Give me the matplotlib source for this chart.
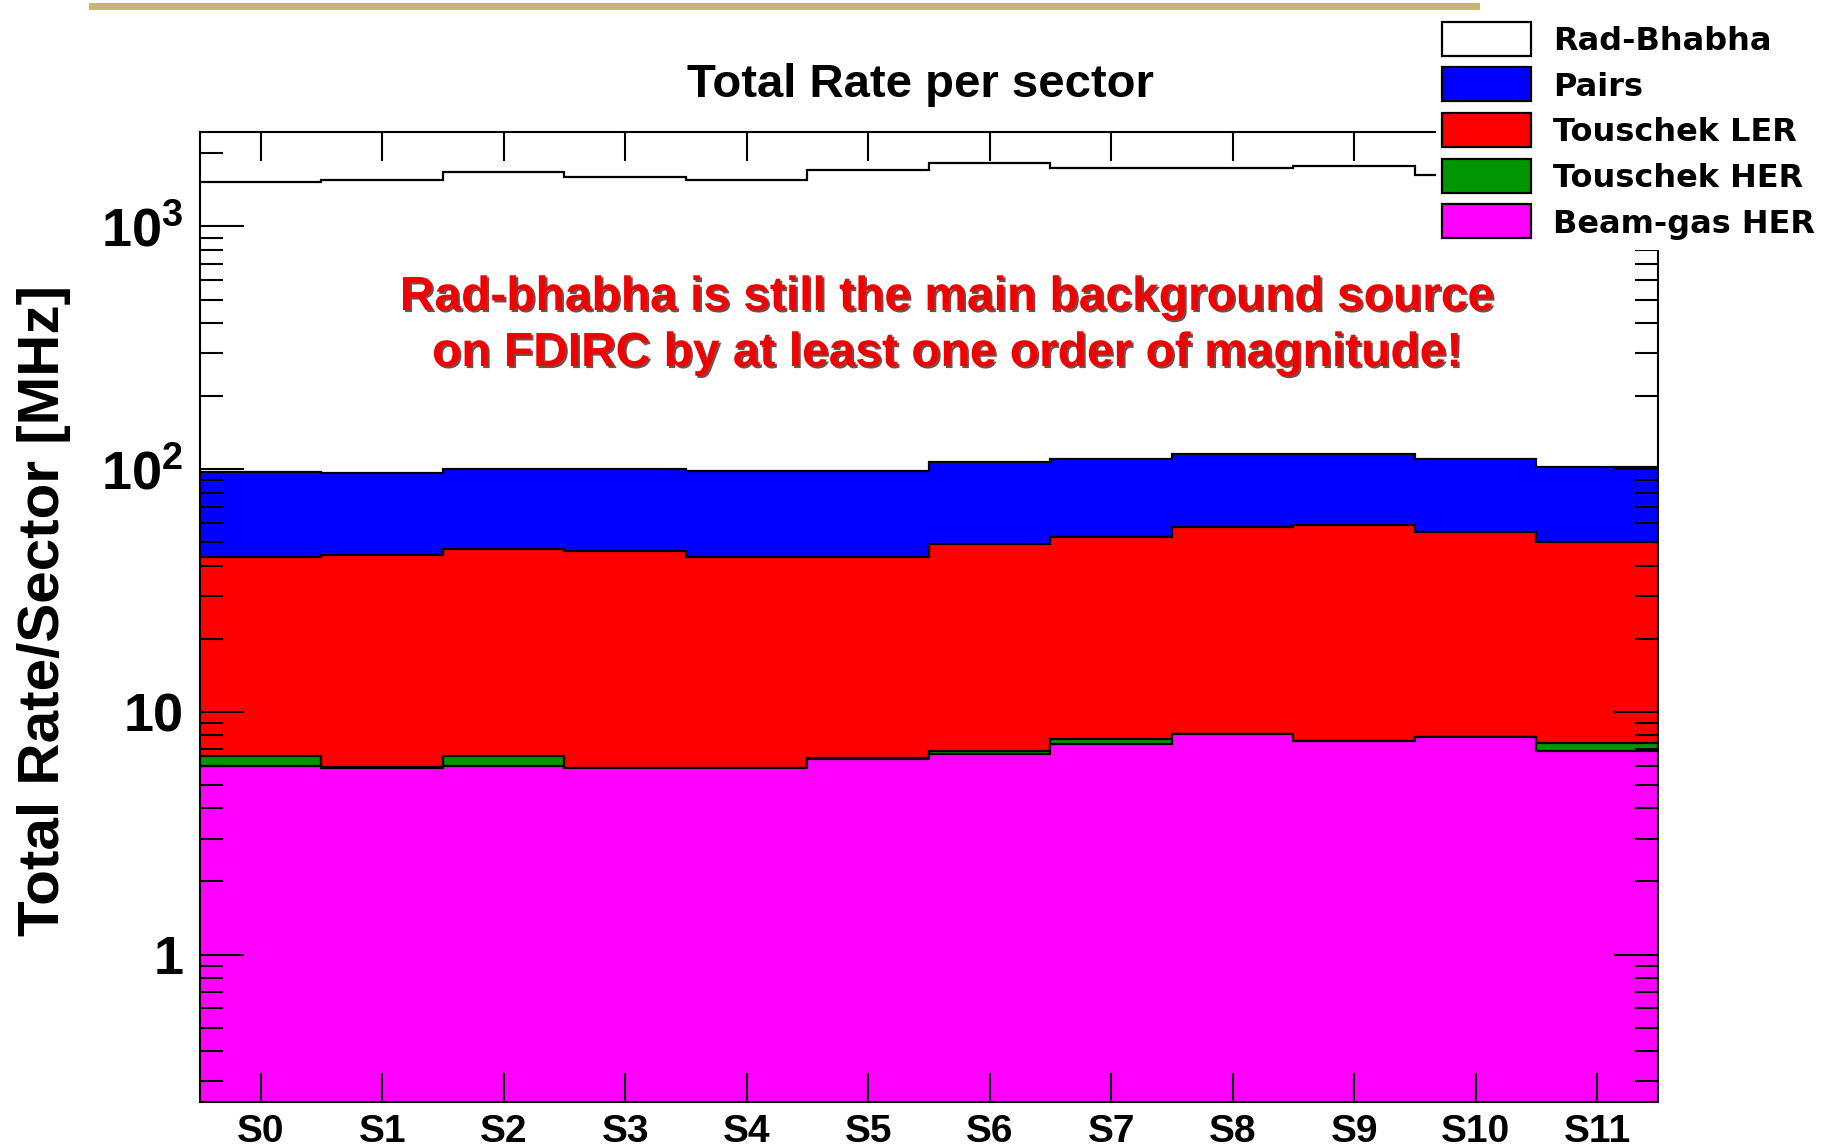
import numpy as np
import matplotlib
matplotlib.use("Agg")
import matplotlib.pyplot as plt
import matplotlib.patheffects as pe
from matplotlib.patches import Rectangle

# values per sector [MHz]
sectors = ["S0", "S1", "S2", "S3", "S4", "S5", "S6", "S7", "S8", "S9", "S10", "S11"]
beamgas_her = [5.98, 5.89, 5.98, 5.87, 5.87, 6.40, 6.69, 7.40, 8.08, 7.58, 7.87, 6.92]
touschek_her = [0.62, 0.01, 0.62, 0.01, 0.01, 0.04, 0.21, 0.33, 0.03, 0.03, 0.03, 0.50]
touschek_ler = [37.0, 38.4, 40.3, 40.1, 37.7, 37.2, 42.1, 45.0, 49.5, 51.1, 47.1, 42.6]
pairs = [54.1, 51.9, 53.3, 54.2, 54.4, 54.4, 58.1, 57.5, 57.6, 56.5, 54.9, 52.4]
rad_bhabha = [1423, 1454, 1572, 1495, 1452, 1612, 1725, 1628, 1623, 1667, 1520, 1460]

names = ["Beam-gas HER", "Touschek HER", "Touschek LER", "Pairs", "Rad-Bhabha"]
colors = ["#ff00ff", "#009600", "#ff0000", "#0000ff", "white"]

plt.rcParams['font.family'] = ['Liberation Sans', 'DejaVu Sans']
plt.rcParams['font.weight'] = 'bold'
plt.rcParams['mathtext.fontset'] = 'custom'
plt.rcParams['mathtext.rm'] = 'Liberation Sans:bold'
plt.rcParams['mathtext.it'] = 'Liberation Sans:bold'
plt.rcParams['mathtext.bf'] = 'Liberation Sans:bold'

W, H = 1833, 1148
fig = plt.figure(figsize=(W / 100, H / 100), dpi=100)
ax = fig.add_axes([200 / W, 1 - 1101.5 / H, 1458 / W, (1101.5 - 131.7) / H])

ymin, ymax = 0.248, 2458
edges = np.arange(len(sectors) + 1)
stack = np.cumsum(np.vstack([beamgas_her, touschek_her, touschek_ler, pairs, rad_bhabha]), axis=0)

# draw like a ROOT THStack: total first, each layer filled down to the axis
for i in range(len(names) - 1, -1, -1):
    z = 2 + (len(names) - i) * 2
    ax.stairs(stack[i], edges, baseline=ymin, fill=True, facecolor=colors[i],
              edgecolor='none', zorder=z)
    ax.stairs(stack[i], edges, baseline=None, color='black', lw=1.6, zorder=z + 1)

ax.set_yscale('log')
ax.set_ylim(ymin, ymax)
ax.set_xlim(0, len(sectors))
ax.set_xticks(edges[:-1] + 0.5, labels=sectors)
ax.set_yticks([1, 10, 100, 1000], labels=['1', '10', '$10^{2}$', '$10^{3}$'])
ax.yaxis.set_minor_formatter(matplotlib.ticker.NullFormatter())
ax.xaxis.set_minor_locator(matplotlib.ticker.NullLocator())

for s in ax.spines.values():
    s.set_linewidth(1.5)
    s.set_zorder(25)
ax.tick_params(which='both', direction='in', top=True, right=True, width=1.5)
ax.yaxis.set_tick_params(which='major', length=32, pad=12, labelsize=39)
ax.yaxis.set_tick_params(which='minor', length=16.5)
ax.xaxis.set_tick_params(which='major', length=21, pad=9, labelsize=28)
for t in ax.get_xticklabels() + ax.get_yticklabels():
    t.set_fontweight('bold')
# ticks on top of the filled histograms
ax.xaxis.set_zorder(24)
ax.yaxis.set_zorder(24)

fig.text(44 / W, 1 - 610 / H, "Total Rate/Sector [MHz]", rotation=90,
         ha='center', va='center', fontsize=42, fontweight='bold')
fig.text(920 / W, 1 - 97 / H, "Total Rate per sector", ha='center', va='baseline',
         fontsize=34, fontweight='bold')

shadow = [pe.SimplePatchShadow(offset=(1.5, -1.5), shadow_rgbFace='#400000', alpha=0.7),
          pe.Normal()]
note = ["Rad-bhabha is still the main background source",
        "on FDIRC by at least one order of magnitude!"]
for line, yb in zip(note, [310, 366]):
    fig.text(947 / W, 1 - yb / H, line, ha='center', va='baseline', fontsize=34.5,
             fontweight='bold', color='#f20000', path_effects=shadow)

# gold bar at the top of the slide
fig.patches.append(Rectangle((89 / W, 1 - 10 / H), 1391 / W, 7 / H,
                             transform=fig.transFigure, facecolor='#c9b474',
                             edgecolor='none', zorder=30))

# legend box (white, sits on top of the frame like in ROOT)
fig.patches.append(Rectangle((1436 / W, 1 - 250 / H), (W - 1436) / W, 238 / H,
                             transform=fig.transFigure, facecolor='white',
                             edgecolor='none', zorder=30))
leg_order = [4, 3, 2, 1, 0]
for k, i in enumerate(leg_order):
    top = 21.7 + k * 45.6
    fig.patches.append(Rectangle((1442 / W, 1 - (top + 34) / H), 89 / W, 34 / H,
                                 transform=fig.transFigure, facecolor=colors[i],
                                 edgecolor='black', lw=1.6, zorder=31))
    fig.text(1553 / W, 1 - (top + 20) / H, names[i], ha='left', va='center',
             fontsize=23, fontweight='bold', family='DejaVu Sans', zorder=32)

fig.savefig("out.png", dpi=100)
